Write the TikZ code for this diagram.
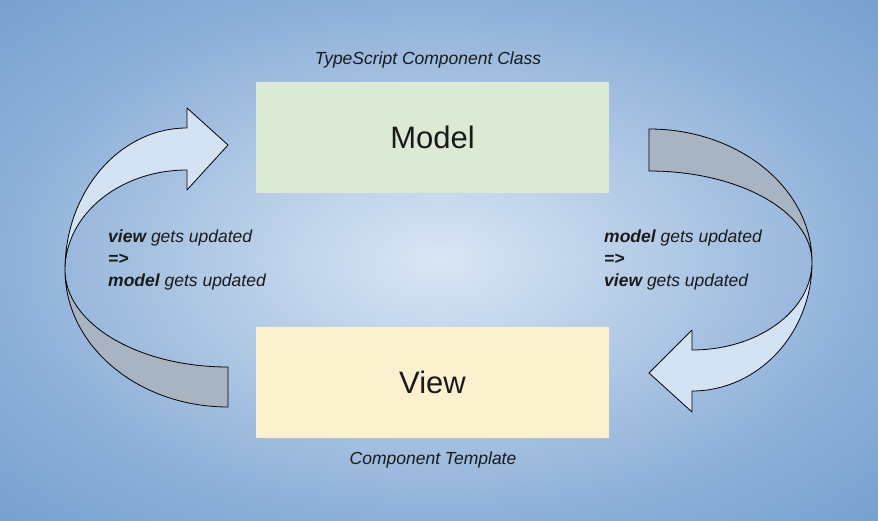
\documentclass[tikz,border=0pt]{standalone}
\usepackage{fontspec}
\setmainfont{Liberation Sans}
\definecolor{bgin}{HTML}{D9E6F4}
\definecolor{bgmid}{HTML}{8DB0D8}
\definecolor{bgout}{HTML}{76A0CF}
\definecolor{modelfill}{HTML}{DCE9D5}
\definecolor{viewfill}{HTML}{FCF1CF}
\definecolor{lightarrow}{HTML}{D4E3F3}
\definecolor{grayarrow}{HTML}{A8B4C2}
\definecolor{txt}{HTML}{1A1A1A}
\pgfdeclareradialshading{bgshade}{\pgfpoint{0bp}{0bp}}{color(0bp)=(bgin); color(25bp)=(bgmid); color(36bp)=(bgout); color(50bp)=(bgout)}
\tikzset{
  box/.style={draw=none, minimum width=353pt, minimum height=111pt, inner sep=0pt, font=\fontsize{31}{36}\selectfont, text=txt},
  caption/.style={font=\fontsize{17.5}{21}\selectfont\itshape, text=txt},
  side/.style={font=\fontsize{17.5}{22}\selectfont\itshape, text=txt, align=left, anchor=west, inner sep=0pt},
  ribbon/.style={draw=black, line width=0.8pt, line join=round},
}
\begin{document}
\begin{tikzpicture}[x=1pt,y=1pt]
\useasboundingbox (0,0) rectangle (878,520);
\shade[shading=bgshade] (0,0) rectangle (878,520);
% boxes
\node[box, fill=modelfill] (model) at (432.5,382.5) {Model};
\node[box, fill=viewfill] (view) at (432.5,138) {View};
\node[caption] (modelcap) at (428,460) {TypeScript Component Class};
\node[caption] (viewcap) at (433,60) {Component Template};
% left ribbon (view -> model)
\draw[ribbon, fill=grayarrow] (65,250) arc[start angle=180, end angle=270, x radius=163, y radius=137]
  -- (228,153) arc[start angle=270, end angle=180, x radius=163, y radius=97] -- cycle;
\draw[ribbon, fill=lightarrow] (187,392) arc[start angle=90, end angle=180, x radius=122, y radius=142]
  arc[start angle=180, end angle=90, x radius=122, y radius=100]
  -- (187,330) -- (228,375) -- (187,412) -- cycle;
% right ribbon (model -> view)
\draw[ribbon, fill=grayarrow] (649,391) arc[start angle=90, end angle=0, x radius=163, y radius=133]
  arc[start angle=0, end angle=90, x radius=163, y radius=91] -- cycle;
\draw[ribbon, fill=lightarrow] (812,258) arc[start angle=0, end angle=-90, x radius=120, y radius=129]
  -- (692,108) -- (649,147) -- (692,190) -- (692,170)
  arc[start angle=-90, end angle=0, x radius=120, y radius=88] -- cycle;
% side texts
\node[side] (lefttext) at (108,260) {\textbf{view} gets updated\\\textbf{=>}\\\textbf{model} gets updated};
\node[side] (righttext) at (604,260) {\textbf{model} gets updated\\\textbf{=>}\\\textbf{view} gets updated};
\end{tikzpicture}
\end{document}
